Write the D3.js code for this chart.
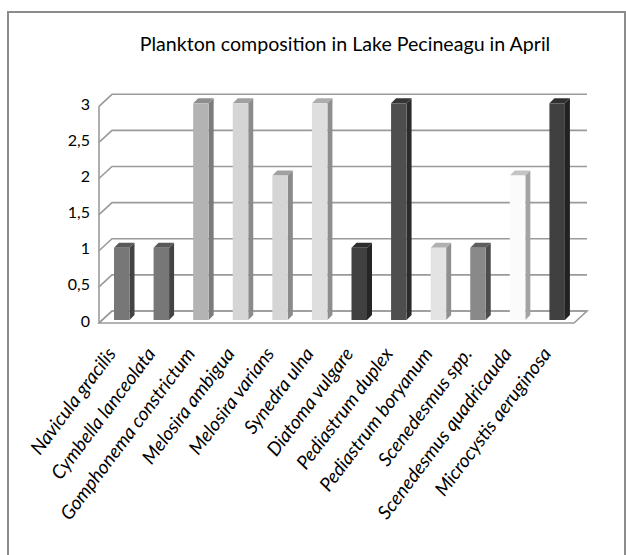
<!DOCTYPE html>
<html>
<head>
<meta charset="utf-8">
<script src="https://cdn.jsdelivr.net/npm/d3@7"></script>
<style>
  body { margin: 0; background: #fff; }
  svg { display: block; }
</style>
</head>
<body>
<main></main>
<script>
// chart data
var categories = ["Navicula gracilis", "Cymbella lanceolata", "Gomphonema constrictum",
                  "Melosira ambigua", "Melosira varians", "Synedra ulna", "Diatoma vulgare",
                  "Pediastrum duplex", "Pediastrum boryanum", "Scenedesmus spp.",
                  "Scenedesmus quadricauda", "Microcystis aeruginosa"];
var values = [1, 1, 3, 3, 2, 3, 1, 3, 1, 1, 2, 3];
var yTicks = [0, 0.5, 1, 1.5, 2, 2.5, 3];
var title = "Plankton composition in Lake Pecineagu in April";

// bar face colours (front, side, top)
var fronts = ["#777777", "#777777", "#b3b3b3", "#d5d5d5", "#d5d5d5", "#dedede",
              "#404040", "#4e4e4e", "#e3e3e3", "#898989", "#fbfbfb", "#404040"];
var sides  = ["#434343", "#434343", "#7c7c7c", "#8b8b8b", "#8b8b8b", "#8e8e8e",
              "#252525", "#2b2b2b", "#8f8f8f", "#4c4c4c", "#a3a3a3", "#222222"];
var tops   = ["#595959", "#595959", "#8e8e8e", "#a0a0a0", "#a0a0a0", "#adadad",
              "#2e2e2e", "#363636", "#b0b0b0", "#5e5e5e", "#c4c4c4", "#303030"];

var w = 626, h = 555;
var depthX = -13, depthY = 12;   // wall depth offset (back -> front)
var barDX = 2, barDY = 9, barW = 15.5, barSide = 5;

var svg = d3.select("main").append("svg")
    .attr("width", w)
    .attr("height", h);

// outer frame
svg.append("rect")
   .attr("x", 8).attr("y", 12)
   .attr("width", 617).attr("height", 560)
   .attr("fill", "none")
   .attr("stroke", "#8c8c8c")
   .attr("stroke-width", 2);

svg.append("text")
   .attr("x", 345).attr("y", 51)
   .attr("text-anchor", "middle")
   .attr("font-family", "Lato, 'Open Sans', sans-serif")
   .attr("font-size", "19.6px")
   .attr("fill", "#000")
   .text(title);

var x = d3.scaleBand().domain(categories).range([112, 587]);
var y = d3.scaleLinear().domain([0, 3]).range([311, 94.3]);

var grid = svg.append("g").attr("stroke", "#9a9a9a").attr("stroke-width", 1.6).attr("fill", "none");

// floor
grid.append("path")
    .attr("fill", "#fff")
    .attr("d", "M" + x.range()[0] + "," + y(0) +
               "L" + x.range()[1] + "," + y(0) +
               "L" + (x.range()[1] + depthX) + "," + (y(0) + depthY) +
               "L" + (x.range()[0] + depthX) + "," + (y(0) + depthY) + "Z");

// back wall gridlines + side wall diagonals
grid.selectAll("path.gl")
    .data(yTicks)
    .enter()
    .append("path")
    .attr("class", "gl")
    .attr("d", function (d) {
        return "M" + (x.range()[0] + depthX) + "," + (y(d) + depthY) +
               "L" + x.range()[0] + "," + y(d) +
               "L" + x.range()[1] + "," + y(d);
    });

// side wall front edge
grid.append("line")
    .attr("x1", x.range()[0] + depthX).attr("x2", x.range()[0] + depthX)
    .attr("y1", y(3) + depthY).attr("y2", y(0) + depthY);

// y labels
svg.selectAll("text.yl")
   .data(yTicks)
   .enter()
   .append("text")
   .attr("class", "yl")
   .attr("x", 90)
   .attr("y", function (d) { return y(d) + depthY - 2; })
   .attr("dy", "0.35em")
   .attr("text-anchor", "end")
   .attr("font-family", "Lato, 'Open Sans', sans-serif")
   .attr("font-size", "16px")
   .attr("fill", "#000")
   .text(function (d) { return String(d).replace(".", ","); });

// bars
var bars = svg.selectAll("g.bar")
    .data(values)
    .enter()
    .append("g")
    .attr("class", "bar");

bars.append("path")   // side
    .attr("fill", function (d, i) { return sides[i]; })
    .attr("d", function (d, i) {
        var x0 = x(categories[i]) + barDX + barW, yt = y(d) + barDY, yb = y(0) + barDY;
        return "M" + x0 + "," + yt + "L" + (x0 + barSide) + "," + (yt - barSide) +
               "L" + (x0 + barSide) + "," + (yb - barSide) + "L" + x0 + "," + yb + "Z";
    });

bars.append("path")   // top
    .attr("fill", function (d, i) { return tops[i]; })
    .attr("d", function (d, i) {
        var x0 = x(categories[i]) + barDX, yt = y(d) + barDY;
        return "M" + x0 + "," + yt + "L" + (x0 + barSide) + "," + (yt - barSide) +
               "L" + (x0 + barW + barSide) + "," + (yt - barSide) + "L" + (x0 + barW) + "," + yt + "Z";
    });

bars.append("rect")   // front
    .attr("x", function (d, i) { return x(categories[i]) + barDX; })
    .attr("y", function (d) { return y(d) + barDY; })
    .attr("width", barW)
    .attr("height", function (d) { return y(0) - y(d); })
    .attr("fill", function (d, i) { return fronts[i]; });

// category labels
svg.selectAll("text.xl")
   .data(categories)
   .enter()
   .append("text")
   .attr("class", "xl")
   .attr("text-anchor", "end")
   .attr("transform", function (d) {
       return "translate(" + (x(d) + x.bandwidth() / 2 - 15) + ",354) rotate(-53)";
   })
   .attr("font-family", "Lato, 'Open Sans', sans-serif")
   .attr("font-style", "italic")
   .attr("font-size", "19px")
   .attr("fill", "#000")
   .text(function (d) { return d; });
</script>
</body>
</html>
